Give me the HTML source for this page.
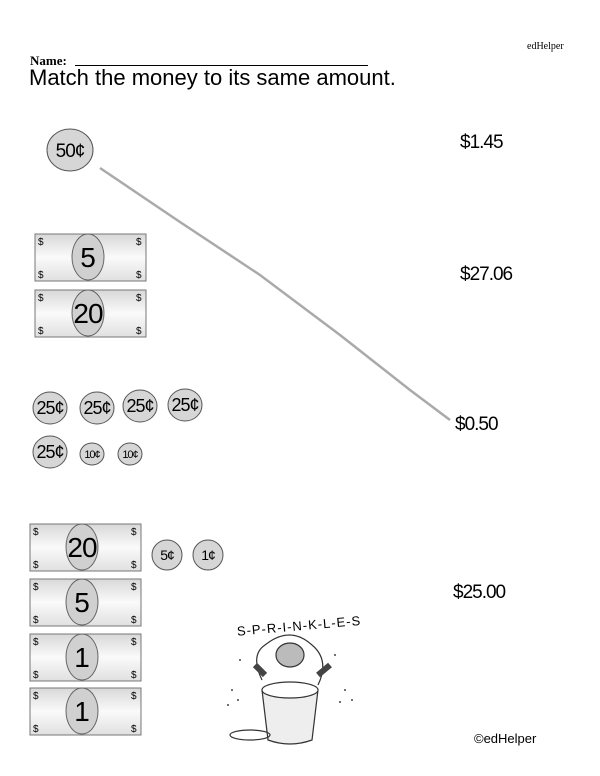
<!DOCTYPE html>
<html><head><style>
body{margin:0;width:600px;height:776px;background:#fff;position:relative;overflow:hidden;font-family:"Liberation Sans",sans-serif}
.t{position:absolute;white-space:nowrap}
</style></head><body>
<div class="t" style="left:527px;top:41px;font:10px 'Liberation Serif',serif">edHelper</div>
<div class="t" style="left:30px;top:53px;font:bold 13px 'Liberation Serif',serif">Name:</div>
<div style="position:absolute;left:75px;top:65px;width:293px;border-top:1px solid #000"></div>
<div class="t" style="left:29px;top:65px;font-size:22px;">Match the money to its same amount.</div>
<div class="t" style="left:460px;top:132px;font-size:19px;letter-spacing:-1px">$1.45</div>
<div class="t" style="left:460px;top:264px;font-size:19px;letter-spacing:-1px">$27.06</div>
<div class="t" style="left:455px;top:414px;font-size:19px;letter-spacing:-1px">$0.50</div>
<div class="t" style="left:453px;top:582px;font-size:19px;letter-spacing:-1px">$25.00</div>
<div class="t" style="left:474px;top:731px;font-size:13px">©edHelper</div>
<svg width="600" height="776" style="position:absolute;left:0;top:0" font-family="Liberation Sans, sans-serif">
<defs>
<linearGradient id="g" x1="0" y1="0" x2="0" y2="1"><stop offset="0" stop-color="#d8d8d8"/><stop offset="0.5" stop-color="#fafafa"/><stop offset="1" stop-color="#e0e0e0"/></linearGradient>
<g id="bill"><rect x="0" y="0" width="111" height="47" fill="url(#g)" stroke="#777"/>
<text x="3" y="11" font-size="10">$</text><text x="101" y="11" font-size="10">$</text>
<text x="3" y="44" font-size="10">$</text><text x="101" y="44" font-size="10">$</text></g>
</defs>
<path d="M100 168 L180 222 L260 275 L340 335 L410 390 L450 420" fill="none" stroke="#aaa" stroke-width="2.5"/>
<g stroke="#555" fill="#d6d6d6">
<ellipse cx="70" cy="150" rx="23" ry="21"/>
<ellipse cx="50" cy="408" rx="17" ry="16"/><ellipse cx="97" cy="408" rx="17" ry="16"/><ellipse cx="140" cy="406" rx="17" ry="16"/><ellipse cx="185" cy="405" rx="17" ry="16"/>
<ellipse cx="50" cy="452" rx="17" ry="16"/><ellipse cx="92" cy="454" rx="12" ry="11"/><ellipse cx="130" cy="454" rx="12" ry="11"/>
<ellipse cx="167" cy="555" rx="15" ry="15"/><ellipse cx="208" cy="555" rx="15" ry="15"/>
</g>
<g font-size="18" text-anchor="middle" letter-spacing="-1">
<text x="70" y="157" font-size="19">50¢</text>
<text x="50" y="414">25¢</text><text x="97" y="414">25¢</text><text x="140" y="412">25¢</text><text x="185" y="411">25¢</text>
<text x="50" y="458">25¢</text><text x="92" y="458" font-size="11">10¢</text><text x="130" y="458" font-size="11">10¢</text>
<text x="167" y="560" font-size="14">5¢</text><text x="208" y="560" font-size="14">1¢</text>
</g>
<use href="#bill" x="35" y="234"/><use href="#bill" x="35" y="290"/>
<use href="#bill" x="30" y="524"/><use href="#bill" x="30" y="579"/><use href="#bill" x="30" y="634"/><use href="#bill" x="30" y="688"/>
<g stroke="#666" fill="#d0d0d0"><ellipse cx="88" cy="257" rx="16" ry="23"/><ellipse cx="88" cy="313" rx="16" ry="23"/>
<ellipse cx="82" cy="547" rx="16" ry="23"/><ellipse cx="82" cy="602" rx="16" ry="23"/><ellipse cx="82" cy="657" rx="16" ry="23"/><ellipse cx="82" cy="711" rx="16" ry="23"/></g>
<g font-size="28" text-anchor="middle">
<text x="88" y="267">5</text><text x="88" y="323" letter-spacing="-1">20</text>
<text x="82" y="557" letter-spacing="-1">20</text><text x="82" y="612">5</text><text x="82" y="667">1</text><text x="82" y="721">1</text>
</g>
<text x="237" y="632" font-size="13" transform="rotate(-5 280 630)" letter-spacing="1">S-P-R-I-N-K-L-E-S</text>
<g stroke="#333" fill="none" stroke-width="1.2">
<path d="M262 680 Q250 655 265 645 Q290 625 312 645 Q330 660 318 685"/>
<ellipse cx="290" cy="655" rx="14" ry="12" fill="#bbb"/>
<path d="M265 675 L255 665 M318 675 L330 665" stroke-width="6" stroke="#444"/>
<path d="M262 690 L268 740 Q290 748 312 740 L318 690 Z" fill="#eee"/>
<ellipse cx="290" cy="690" rx="28" ry="8" fill="#fff"/>
<ellipse cx="250" cy="735" rx="20" ry="5"/>
</g>
<g fill="#444"><circle cx="232" cy="690" r="1"/><circle cx="238" cy="700" r="1"/><circle cx="228" cy="705" r="1"/><circle cx="345" cy="690" r="1"/><circle cx="352" cy="700" r="1"/><circle cx="340" cy="702" r="1"/><circle cx="240" cy="660" r="1"/><circle cx="335" cy="655" r="1"/></g>
</svg>
</body></html>
